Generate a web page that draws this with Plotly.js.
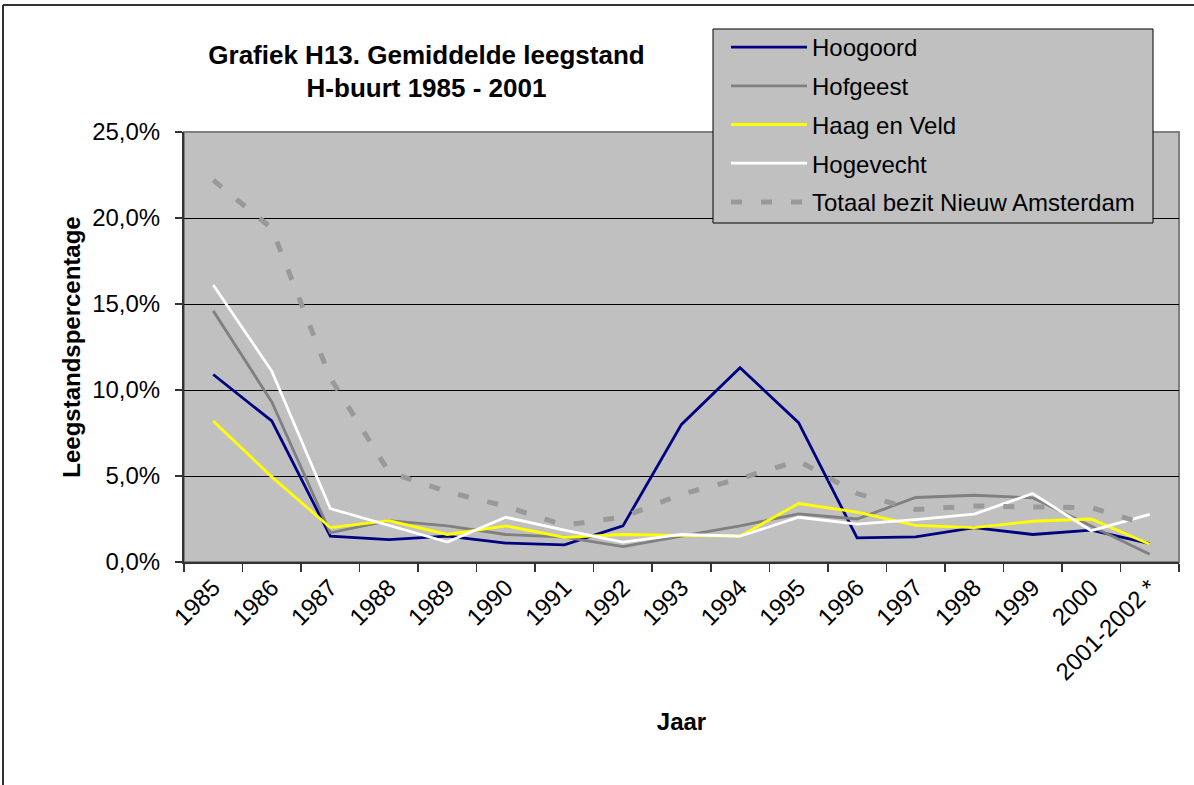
<!DOCTYPE html>
<html>
<head>
<meta charset="utf-8">
<script src="https://cdn.plot.ly/plotly-3.0.1.min.js"></script>
<style>
  html, body { margin: 0; padding: 0; background: #ffffff; }
  #chart { width: 1194px; height: 785px; }
</style>
</head>
<body>
<div id="chart"></div>
<script>
// ---- data (fractions) ----
const jaren = ["1985","1986","1987","1988","1989","1990","1991","1992","1993","1994","1995","1996","1997","1998","1999","2000","2001-2002 *"];

const hoogoord   = [0.109, 0.082, 0.015, 0.013, 0.015, 0.011, 0.010, 0.021, 0.080, 0.113, 0.081, 0.014, 0.0146, 0.020, 0.016, 0.0185, 0.0107];
const hofgeest   = [0.146, 0.093, 0.017, 0.024, 0.021, 0.016, 0.0145, 0.009, 0.015, 0.021, 0.028, 0.025, 0.0375, 0.0388, 0.0373, 0.021, 0.0045];
const haagEnVeld = [0.082, 0.0495, 0.020, 0.024, 0.016, 0.021, 0.0143, 0.016, 0.0155, 0.015, 0.034, 0.029, 0.0213, 0.020, 0.0237, 0.025, 0.0103];
const hogevecht  = [0.161, 0.111, 0.031, 0.0215, 0.0116, 0.026, 0.0185, 0.0116, 0.016, 0.015, 0.026, 0.022, 0.0246, 0.0278, 0.0398, 0.0182, 0.0277];
const totaal     = [0.222, 0.194, 0.107, 0.0524, 0.0408, 0.0324, 0.0213, 0.0262, 0.0394, 0.0485, 0.0588, 0.0398, 0.0305, 0.0326, 0.032, 0.0316, 0.0213];

const seriesNames = ["Hoogoord", "Hofgeest", "Haag en Veld", "Hogevecht", "Totaal bezit Nieuw Amsterdam"];

const FONT = "'Liberation Sans', Arial, sans-serif";

function tr(name, y, color, width, dash, grp) {
  return {
    type: 'scatter', mode: 'lines', name: name, x: jaren, y: y,
    legendgroup: grp,
    line: { color: color, width: width, dash: dash || 'solid' },
    hoverinfo: 'skip'
  };
}

const data = [
  tr(seriesNames[0], hoogoord,   '#000080', 2.8, null, 'g1'),
  tr(seriesNames[1], hofgeest,   '#808080', 2.8, null, 'g2'),
  tr(seriesNames[2], haagEnVeld, '#FFFF00', 2.8, null, 'g3'),
  tr(seriesNames[3], hogevecht,  '#FFFFFF', 2.8, null, 'g4'),
  tr(seriesNames[4], totaal,     '#999999', 5,   '11px,19px', 'g5')
];

const L = 184, R = 15, T = 132, B = 223;
const W = 1194, H = 785;
const pw = W - L - R, ph = H - T - B;
const px = v => (v - L) / pw;
const py = v => (H - B - v) / ph;

const layout = {
  width: W, height: H,
  margin: { l: L, r: R, t: T, b: B, pad: 0 },
  paper_bgcolor: '#ffffff',
  plot_bgcolor: '#C0C0C0',
  separators: ',.',
  font: { family: FONT, size: 24, color: '#000000' },
  showlegend: true,
  title: {
    text: 'Grafiek H13. Gemiddelde leegstand<br>H-buurt 1985 - 2001',
    font: { family: FONT, size: 26, weight: 'bold', color: '#000000' },
    xref: 'container', yref: 'container',
    x: 426.5 / W, xanchor: 'center',
    y: 1 - 63.5 / H, yanchor: 'middle'
  },
  xaxis: {
    type: 'category',
    categoryorder: 'array', categoryarray: jaren,
    range: [-0.5, jaren.length - 0.5],
    tickson: 'boundaries',
    ticks: 'outside', ticklen: 8, tickwidth: 1.5, tickcolor: '#333333',
    tickangle: -45,
    tickfont: { family: FONT, size: 24, color: '#000000' },
    showgrid: false, zeroline: false,
    showline: true, linecolor: '#333333', linewidth: 2,
    automargin: false,
    title: { text: 'Jaar', font: { family: FONT, size: 24, weight: 'bold', color: '#000000' }, standoff: 29 }
  },
  yaxis: {
    range: [0, 0.25],
    tick0: 0, dtick: 0.05,
    tickformat: '.1%',
    ticks: 'outside', ticklen: 7, tickwidth: 1.5, tickcolor: '#333333',
    ticklabelstandoff: 10,
    tickfont: { family: FONT, size: 24, color: '#000000' },
    showgrid: true, gridcolor: '#000000', gridwidth: 1,
    zeroline: false,
    showline: true, linecolor: '#333333', linewidth: 2,
    automargin: false,
    title: { text: 'Leegstandspercentage', font: { family: FONT, size: 24, weight: 'bold', color: '#000000' }, standoff: 5 }
  },
  legend: {
    x: px(726), xanchor: 'left',
    y: py(25), yanchor: 'top',
    bgcolor: 'rgba(0,0,0,0)',
    borderwidth: 0,
    font: { family: FONT, size: 24, color: '#000000' },
    itemwidth: 76,
    tracegroupgap: 4.5,
    traceorder: 'grouped'
  },
  shapes: [
    { type: 'rect', xref: 'paper', yref: 'paper', x0: 0, x1: 1, y0: 0, y1: 1,
      line: { color: '#808080', width: 2 }, layer: 'below' },
    { type: 'rect', xref: 'paper', yref: 'paper', x0: px(713), x1: px(1153), y0: py(223), y1: py(29),
      fillcolor: '#C0C0C0', line: { color: '#000000', width: 1 }, layer: 'above' },
    { type: 'line', xref: 'paper', yref: 'paper', x0: px(3), x1: px(3), y0: py(H + 20), y1: py(5),
      line: { color: '#333333', width: 2 } },
    { type: 'line', xref: 'paper', yref: 'paper', x0: px(3), x1: px(W + 20), y0: py(5), y1: py(5),
      line: { color: '#333333', width: 2 } }
  ]
};

Plotly.newPlot('chart', data, layout, { staticPlot: true, displayModeBar: false });
</script>
</body>
</html>
